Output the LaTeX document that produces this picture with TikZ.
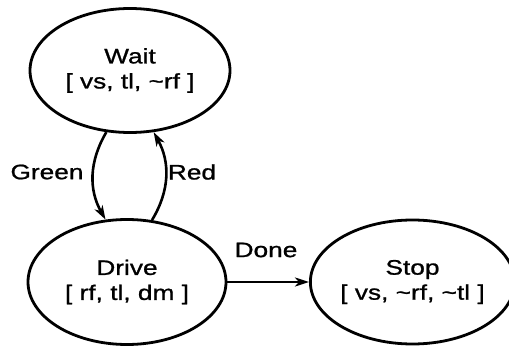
\documentclass[tikz,border=0pt]{standalone}
\usepackage{fontspec}
\setmainfont{Liberation Sans}[FakeStretch=1.25,FakeBold=1]
\usetikzlibrary{shapes.geometric,arrows.meta}
\begin{document}
\begin{tikzpicture}[x=1pt,y=1pt,
  state/.style={ellipse,draw,line width=2.8pt,inner sep=0pt,align=center,
    font=\fontsize{21}{25}\selectfont},
  trans/.style={line width=2.6pt,-{Stealth[length=14pt,width=9pt,inset=4pt]}},
  lbl/.style={font=\fontsize{21}{25}\selectfont,inner sep=0pt}]
\useasboundingbox (0,0) rectangle (509,346);
\node[state,minimum width=200pt,minimum height=124pt] (W) at (130,275.5) {Wait\\{[} vs, tl, \textasciitilde rf ]};
\node[state,minimum width=198pt,minimum height=125pt] (D) at (127,64) {Drive\\{[} rf, tl, dm ]};
\node[state,minimum width=185pt,minimum height=124pt] (S) at (412.5,64) {Stop\\{[} vs, \textasciitilde rf, \textasciitilde tl ]};
\draw[trans] (W.249) to[bend right=30] (D.109);
\draw[trans] (D.68) to[bend right=30] (W.291);
\draw[trans] (D.east) -- (S.west);
\node[lbl] (g) at (47,174) {Green};
\node[lbl] (r) at (192,174) {Red};
\node[lbl] (d) at (266,96) {Done};
\end{tikzpicture}
\end{document}
